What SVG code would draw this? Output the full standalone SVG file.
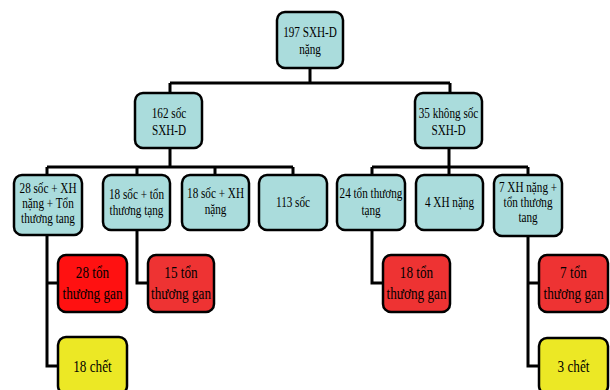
<svg xmlns="http://www.w3.org/2000/svg" width="610" height="390" viewBox="0 0 610 390">
<style>
.box{stroke:#000;stroke-width:2.5}
.teal{fill:#aadcdc}
.red{fill:#ee3333}
.red2{fill:#ff1111}
.yel{fill:#ece825}
.t{font-family:'Liberation Serif','DejaVu Serif',serif;font-size:14px;fill:#000;text-anchor:middle}
.t4{font-family:'Liberation Serif','DejaVu Serif',serif;font-size:16.5px;fill:#000;text-anchor:middle}
.c{fill:none;stroke:#000;stroke-width:3;stroke-linejoin:miter}
</style>
<rect width="610" height="390" fill="#fff"/>
<g id="connectors">
<path class="c" d="M310,68 V83 M170,83 H450 M170,83 V93 M450,83 V93"/>
<path class="c" d="M170,148 V167 M47,167 H293 M47,167 V175 M137,167 V175 M215,167 V175 M293,167 V175"/>
<path class="c" d="M449,148 V167 M372,167 H528 M372,167 V175 M449,167 V175 M528,167 V175"/>
<path class="c" d="M47,235 V366 H58 M47,283 H58"/>
<path class="c" d="M137,230 V283 H148"/>
<path class="c" d="M372,230 V283 H383"/>
<path class="c" d="M528,236 V366 H539 M528,283 H539"/>
</g>
<g id="n197">
<rect class="box teal" x="277" y="12" width="66" height="56" rx="8"/>
<text class="t" transform="translate(310,37) scale(0.8 1)"><tspan x="0">197 SXH-D</tspan><tspan x="0" dy="17">nặng</tspan></text>
</g>
<g id="n162">
<rect class="box teal" x="135" y="93" width="67" height="55" rx="8"/>
<text class="t" transform="translate(169,118) scale(0.8 1)"><tspan x="0">162 sốc</tspan><tspan x="0" dy="17">SXH-D</tspan></text>
</g>
<g id="n35">
<rect class="box teal" x="415" y="93" width="67" height="55" rx="8"/>
<text class="t" transform="translate(448.5,118) scale(0.8 1)"><tspan x="0">35 không sốc</tspan><tspan x="0" dy="17">SXH-D</tspan></text>
</g>
<g id="n28s">
<rect class="box teal" x="14" y="175" width="68" height="60" rx="8"/>
<text class="t" transform="translate(48,193) scale(0.8 1)"><tspan x="0">28 sốc + XH</tspan><tspan x="0" dy="15">nặng + Tổn</tspan><tspan x="0" dy="15">thương tang</tspan></text>
</g>
<g id="n18st">
<rect class="box teal" x="103" y="175" width="67" height="55" rx="8"/>
<text class="t" transform="translate(136.5,199) scale(0.8 1)"><tspan x="0">18 sốc + tổn</tspan><tspan x="0" dy="16">thương tạng</tspan></text>
</g>
<g id="n18sx">
<rect class="box teal" x="182" y="175" width="67" height="55" rx="8"/>
<text class="t" transform="translate(215.5,198) scale(0.8 1)"><tspan x="0">18 sốc + XH</tspan><tspan x="0" dy="16">nặng</tspan></text>
</g>
<g id="n113">
<rect class="box teal" x="259" y="175" width="68" height="55" rx="8"/>
<text class="t" transform="translate(293,207) scale(0.8 1)"><tspan x="0">113 sốc</tspan></text>
</g>
<g id="n24">
<rect class="box teal" x="337" y="175" width="68" height="55" rx="8"/>
<text class="t" transform="translate(371,198) scale(0.8 1)"><tspan x="0">24 tổn thương</tspan><tspan x="0" dy="17">tạng</tspan></text>
</g>
<g id="n4">
<rect class="box teal" x="416" y="175" width="67" height="55" rx="8"/>
<text class="t" transform="translate(449.5,207) scale(0.8 1)"><tspan x="0">4 XH nặng</tspan></text>
</g>
<g id="n7x">
<rect class="box teal" x="494" y="175" width="68" height="61" rx="8"/>
<text class="t" transform="translate(528,192) scale(0.8 1)"><tspan x="0">7 XH nặng +</tspan><tspan x="0" dy="15">tổn thương</tspan><tspan x="0" dy="15">tang</tspan></text>
</g>
<g id="n28g">
<rect class="box red2" x="58" y="255" width="69" height="57" rx="8"/>
<text class="t4" transform="translate(92.5,278) scale(0.8 1)"><tspan x="0">28 tổn</tspan><tspan x="0" dy="21">thương gan</tspan></text>
</g>
<g id="n15g">
<rect class="box red" x="148" y="255" width="66" height="57" rx="8"/>
<text class="t4" transform="translate(181,278) scale(0.8 1)"><tspan x="0">15 tổn</tspan><tspan x="0" dy="21">thương gan</tspan></text>
</g>
<g id="n18g">
<rect class="box red" x="383" y="255" width="67" height="57" rx="8"/>
<text class="t4" transform="translate(416.5,278) scale(0.8 1)"><tspan x="0">18 tổn</tspan><tspan x="0" dy="21">thương gan</tspan></text>
</g>
<g id="n7g">
<rect class="box red" x="539" y="255" width="69" height="57" rx="8"/>
<text class="t4" transform="translate(573.5,278) scale(0.8 1)"><tspan x="0">7 tổn</tspan><tspan x="0" dy="21">thương gan</tspan></text>
</g>
<g id="n18c">
<rect class="box yel" x="58" y="337" width="69" height="57" rx="8"/>
<text class="t4" transform="translate(92.5,372) scale(0.8 1)"><tspan x="0">18 chết</tspan></text>
</g>
<g id="n3c">
<rect class="box yel" x="539" y="338" width="69" height="56" rx="8"/>
<text class="t4" transform="translate(573.5,372) scale(0.8 1)"><tspan x="0">3 chết</tspan></text>
</g>
</svg>
